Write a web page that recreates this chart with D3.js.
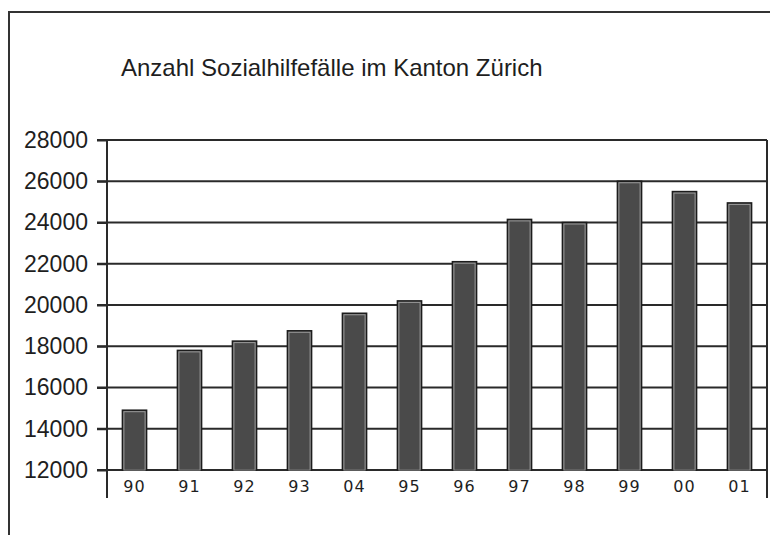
<!DOCTYPE html>
<html>
<head>
<meta charset="utf-8">
<script src="https://cdn.jsdelivr.net/npm/d3@7"></script>
<style>
  body { margin: 0; background: #fff; }
  svg { display: block; }
</style>
</head>
<body>
<svg id="chart"></svg>
<script>
// data
const years = ["90", "91", "92", "93", "04", "95", "96", "97", "98", "99", "00", "01"];
const cases = [14900, 17800, 18250, 18750, 19600, 20200, 22100, 24150, 24000, 26000, 25500, 24950];
const yTicks = [12000, 14000, 16000, 18000, 20000, 22000, 24000, 26000, 28000];
const title = "Anzahl Sozialhilfefälle im Kanton Zürich";

const width = 770, height = 535;
const margin = { top: 140, right: 3, bottom: 65, left: 107 };

const svg = d3.select("#chart").attr("width", width).attr("height", height);

// outer frame (only top and left survive in the scan)
svg.append("line")
  .attr("x1", 8).attr("x2", width).attr("y1", 12).attr("y2", 12)
  .attr("stroke", "#333").attr("stroke-width", 2);
svg.append("line")
  .attr("x1", 9).attr("x2", 9).attr("y1", 12).attr("y2", height)
  .attr("stroke", "#333").attr("stroke-width", 2);

svg.append("text")
  .attr("x", 121).attr("y", 76)
  .attr("font-family", "Liberation Sans, Arial, sans-serif")
  .attr("font-size", 24)
  .attr("fill", "#1e1e1e")
  .text(title);

const xScale = d3.scaleBand()
  .domain(years)
  .range([margin.left, width - margin.right])
  .paddingInner(0.56)
  .paddingOuter(0.28);

const yScale = d3.scaleLinear()
  .domain([12000, 28000])
  .range([height - margin.bottom, margin.top]);

// gridlines
svg.append("g")
  .selectAll("line")
  .data(yTicks)
  .join("line")
  .attr("x1", margin.left - 10)
  .attr("x2", width - margin.right)
  .attr("y1", d => yScale(d))
  .attr("y2", d => yScale(d))
  .attr("stroke", "#2a2a2a")
  .attr("stroke-width", 2);

// right border of plot
svg.append("line")
  .attr("x1", width - margin.right).attr("x2", width - margin.right)
  .attr("y1", margin.top).attr("y2", 498)
  .attr("stroke", "#2a2a2a").attr("stroke-width", 2);

// bars
const bars = svg.append("g");
bars.selectAll(".bar")
  .data(cases)
  .join("rect")
  .attr("class", "bar")
  .attr("x", (d, i) => xScale(years[i]))
  .attr("y", d => yScale(d))
  .attr("width", xScale.bandwidth())
  .attr("height", d => yScale(12000) - yScale(d))
  .attr("fill", "#4a4a4a")
  .attr("stroke", "#1c1c1c")
  .attr("stroke-width", 1.5);
bars.selectAll(".hl")
  .data(cases)
  .join("rect")
  .attr("class", "hl")
  .attr("x", (d, i) => xScale(years[i]) + 1.5)
  .attr("y", d => yScale(d) + 1.5)
  .attr("width", xScale.bandwidth() - 3)
  .attr("height", d => yScale(12000) - yScale(d) - 1.5)
  .attr("fill", "none")
  .attr("stroke", "#9a9a9a")
  .attr("stroke-width", 1);

// y axis
const yAxis = d3.axisLeft(yScale).tickValues(yTicks).tickSize(10).tickPadding(9).tickFormat(d3.format("d"));
const gy = svg.append("g")
  .attr("transform", `translate(${margin.left},0)`)
  .call(yAxis);
gy.select(".domain").remove();
gy.selectAll(".tick line").attr("stroke", "#2a2a2a").attr("stroke-width", 2);
gy.selectAll("text")
  .attr("font-family", "Liberation Sans, Arial, sans-serif")
  .attr("font-size", 23)
  .attr("fill", "#1e1e1e");
svg.append("line")
  .attr("x1", margin.left).attr("x2", margin.left)
  .attr("y1", margin.top).attr("y2", 498)
  .attr("stroke", "#2a2a2a").attr("stroke-width", 2);

// x axis
const xAxis = d3.axisBottom(xScale).tickSize(0).tickPadding(11);
const gx = svg.append("g")
  .attr("transform", `translate(0,${yScale(12000)})`)
  .call(xAxis);
gx.select(".domain").remove();
gx.selectAll("text")
  .attr("font-family", "DejaVu Sans, Verdana, sans-serif")
  .attr("font-size", 16)
  .attr("letter-spacing", 1)
  .attr("fill", "#1e1e1e");
</script>
</body>
</html>
